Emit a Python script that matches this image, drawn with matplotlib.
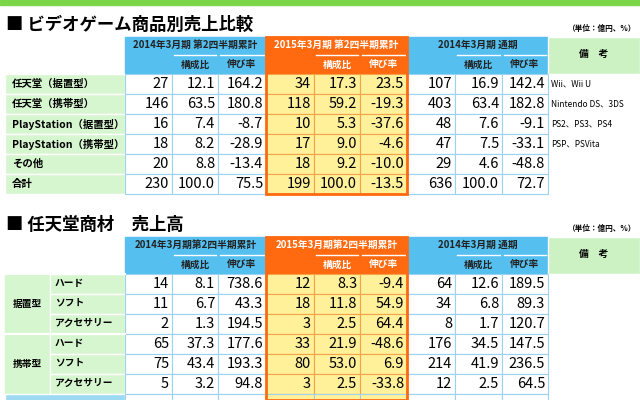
import matplotlib
matplotlib.use("Agg")
import matplotlib.pyplot as plt
from matplotlib.patches import Rectangle

plt.rcParams["font.family"] = "Noto Sans CJK JP"

title1 = "■ ビデオゲーム商品別売上比較"
title2 = "■ 任天堂商材　売上高"
unit = "（単位：億円、%）"
periods1 = ["2014年3月期 第2四半期累計", "2015年3月期 第2四半期累計", "2014年3月期 通期"]
periods2 = ["2014年3月期第2四半期累計", "2015年3月期第2四半期累計", "2014年3月期 通期"]
subheads = ["構成比", "伸び率"]
note_head = "備　考"

rows1 = ["任天堂（据置型）", "任天堂（携帯型）", "PlayStation（据置型）", "PlayStation（携帯型）", "その他", "合計"]
vals1 = [
    ["27", "12.1", "164.2", "34", "17.3", "23.5", "107", "16.9", "142.4"],
    ["146", "63.5", "180.8", "118", "59.2", "-19.3", "403", "63.4", "182.8"],
    ["16", "7.4", "-8.7", "10", "5.3", "-37.6", "48", "7.6", "-9.1"],
    ["18", "8.2", "-28.9", "17", "9.0", "-4.6", "47", "7.5", "-33.1"],
    ["20", "8.8", "-13.4", "18", "9.2", "-10.0", "29", "4.6", "-48.8"],
    ["230", "100.0", "75.5", "199", "100.0", "-13.5", "636", "100.0", "72.7"],
]
notes1 = ["Wii、Wii U", "Nintendo DS、3DS", "PS2、PS3、PS4", "PSP、PSVita", "", ""]

groups2 = ["据置型", "携帯型"]
rows2 = ["ハード", "ソフト", "アクセサリー", "ハード", "ソフト", "アクセサリー"]
vals2 = [
    ["14", "8.1", "738.6", "12", "8.3", "-9.4", "64", "12.6", "189.5"],
    ["11", "6.7", "43.3", "18", "11.8", "54.9", "34", "6.8", "89.3"],
    ["2", "1.3", "194.5", "3", "2.5", "64.4", "8", "1.7", "120.7"],
    ["65", "37.3", "177.6", "33", "21.9", "-48.6", "176", "34.5", "147.5"],
    ["75", "43.4", "193.3", "80", "53.0", "6.9", "214", "41.9", "236.5"],
    ["5", "3.2", "94.8", "3", "2.5", "-33.8", "12", "2.5", "64.5"],
]

BLUE = "#55bff0"; ORANGE = "#ff6a10"; YELLOW = "#fff09a"; LGREEN = "#d6f6cf"; HDRGREEN = "#ccf2c4"
cols = [125, 172, 218, 266, 314, 360, 407, 455, 502, 548]

fig = plt.figure(figsize=(6.4, 4.0), dpi=100)
ax = fig.add_axes([0, 0, 1, 1])
ax.set_xlim(0, 640); ax.set_ylim(400, 0); ax.axis("off")

ax.add_patch(Rectangle((0, 0), 640, 5, color="#7cd64a"))

def rect(x0, y0, x1, y1, fc, ec="white", lw=1.0, z=1):
    ax.add_patch(Rectangle((x0, y0), x1 - x0, y1 - y0, facecolor=fc, edgecolor=ec, lw=lw, zorder=z))

def table(top, title, periods, rowlabels, vals, notes, grouped):
    ax.text(6, top - 12, title, fontsize=12.5, fontweight="bold", va="center", ha="left")
    ax.text(636, top - 9, unit, fontsize=5.5, fontweight="bold", va="center", ha="right")
    h0, h1, h2 = top, top + 18, top + 37
    for b in range(3):
        x0, x1 = cols[3 * b], cols[3 * b + 3]
        c = ORANGE if b == 1 else BLUE
        rect(x0, h0, x1, h2, c, ec=c)
        ax.text((x0 + x1) / 2, h0 + 8, periods[b], fontsize=7, fontweight="bold",
                color="white" if b == 1 else "#222", ha="center", va="center")
        for k in range(2):
            xa, xb = cols[3 * b + 1 + k], cols[3 * b + 2 + k]
            ax.plot([xa + 2, xb - 2], [h1, h1], color="white", lw=1)
            ax.text((xa + xb) / 2, (h1 + h2) / 2, subheads[k], fontsize=7, fontweight="bold",
                    color="white" if b == 1 else "#222", ha="center", va="center")
    rect(548, h0, 640, h2, HDRGREEN)
    ax.text(594, (h0 + h2) / 2 - 2, note_head, fontsize=7, fontweight="bold", ha="center", va="center")
    rh = 20
    for i, lab in enumerate(rowlabels):
        y0 = h2 + i * rh
        if y0 >= 400:
            break
        if grouped:
            rect(5, y0, 50, y0 + rh, LGREEN, ec=LGREEN)
            rect(50, y0, 125, y0 + rh, LGREEN, ec="white")
            ax.text(55, y0 + 9, lab, fontsize=7, fontweight="bold", ha="left", va="center")
        else:
            rect(5, y0, 125, y0 + rh, LGREEN, ec="white")
            ax.text(12, y0 + 10, lab, fontsize=7.5, fontweight="bold", ha="left", va="center")
        for j, v in enumerate(vals[i]):
            x0, x1 = cols[j], cols[j + 1]
            fc = YELLOW if 3 <= j <= 5 else "white"
            rect(x0, y0, x1, y0 + rh, fc, ec="#9bd3ef" if fc == "white" else "#f5a34a", lw=0.8)
            ax.text(x1 - 3, y0 + 10, v, fontsize=10.5, ha="right", va="center")
        if notes is not None and notes[i]:
            ax.text(551, y0 + 10, notes[i], fontsize=6, ha="left", va="center")
    if grouped:
        for g, name in enumerate(groups2):
            ax.text(27, h2 + (g * 3 + 1.5) * rh, name, fontsize=7, fontweight="bold", ha="center", va="center")
            ax.plot([5, 125], [h2 + g * 3 * rh, h2 + g * 3 * rh], color="white", lw=1.5, zorder=3)
        y0 = h2 + 6 * rh
        rect(5, y0, 125, 404, "#9dd9f3", ec="white")
        for j in range(9):
            rect(cols[j], y0, cols[j + 1], 404, YELLOW if 3 <= j <= 5 else "white", ec="#9bd3ef", lw=0.8)
    bottom = min(h2 + len(rowlabels) * rh + (rh if grouped else 0), 400)
    ax.add_patch(Rectangle((266, top), 141, bottom - top, fill=False, edgecolor=ORANGE, lw=2, zorder=5))

table(37, title1, periods1, rows1, vals1, notes1, False)
table(237, title2, periods2, rows2, vals2, None, True)

fig.savefig("out.png", dpi=100)
